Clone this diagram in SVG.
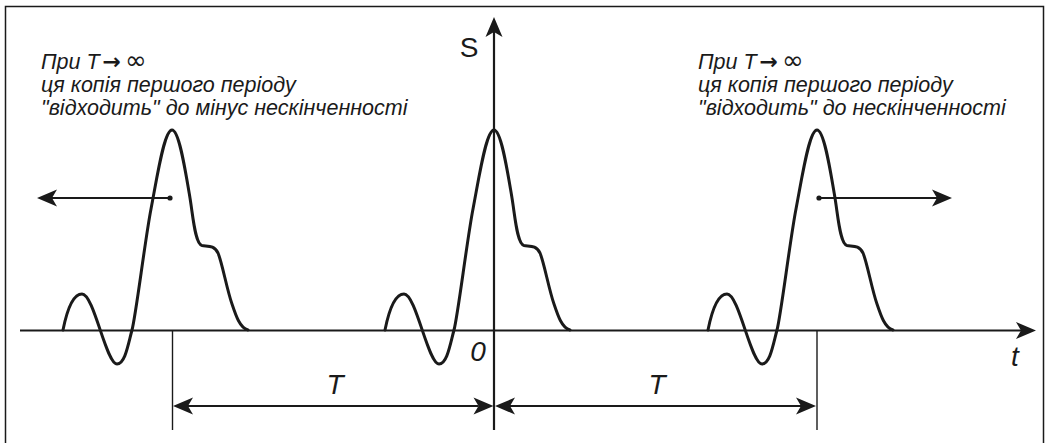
<svg xmlns="http://www.w3.org/2000/svg" xmlns:xlink="http://www.w3.org/1999/xlink" width="1049" height="443" viewBox="0 0 1049 443">
<style>
.frame{fill:none;stroke:#1a1a1a;stroke-width:1.5}
.axis{fill:none;stroke:#1a1a1a;stroke-width:2.2}
.thin{fill:none;stroke:#1a1a1a;stroke-width:1.4}
.dim{fill:none;stroke:#1a1a1a;stroke-width:1.8}
.pulse{fill:none;stroke:#1a1a1a;stroke-width:3;stroke-linejoin:round;stroke-linecap:round}
.note{font-family:"Liberation Sans",Arial,sans-serif;font-style:italic;font-size:21.5px;fill:#1a1a1a}
.arr{font-family:"DejaVu Sans",sans-serif;font-style:normal;font-weight:bold;font-size:22px}
.inf{font-family:"DejaVu Sans",sans-serif;font-style:normal;font-size:26px}
.lbl{font-family:"Liberation Sans",Arial,sans-serif;font-style:italic;font-size:28px;fill:#1a1a1a}
.lblS{font-family:"Liberation Sans",Arial,sans-serif;font-size:28px;fill:#1a1a1a}
.dot{fill:#1a1a1a}
</style>
<defs>
<marker id="ah" markerUnits="userSpaceOnUse" markerWidth="22" markerHeight="18" refX="5" refY="8.5" orient="auto-start-reverse" overflow="visible">
<path d="M0,0 L20,8.5 L0,17 L5,8.5 Z" fill="#1a1a1a"/>
</marker>
<path id="pulse" class="pulse" d="M-109,330 C-105,310 -99,294 -90,294 C-78,294 -66,364 -55,364 C-47,364 -44,345 -40,330 C-36,315 -27,240 -21,209 C-15,178 -8,130 0,130 C7,130 13,168 18,198 C21,216 23,244 30,245.5 C36,246.5 42,245 46,253 C50,262 55,290 60,304 C64,316 68,328 76,330"/>
</defs>
<rect class="frame" x="5.5" y="6.5" width="1038" height="445"/>
<g id="connectors">
<line class="axis" x1="20" y1="330.5" x2="1021" y2="330.5" marker-end="url(#ah)"/>
<line class="axis" x1="494" y1="430" x2="494" y2="32" marker-end="url(#ah)"/>
<line class="thin" x1="172.5" y1="331" x2="172.5" y2="430"/>
<line class="thin" x1="817" y1="331" x2="817" y2="430"/>
<line class="dim" x1="188" y1="406" x2="478.5" y2="406" marker-start="url(#ah)" marker-end="url(#ah)"/>
<line class="dim" x1="510" y1="406" x2="801" y2="406" marker-start="url(#ah)" marker-end="url(#ah)"/>
<line class="dim" x1="170" y1="198" x2="52" y2="198" marker-end="url(#ah)"/>
<line class="dim" x1="819" y1="198" x2="937" y2="198" marker-end="url(#ah)"/>
<circle class="dot" cx="170" cy="198" r="2.6"/>
<circle class="dot" cx="819" cy="198" r="2.6"/>
</g>
<g id="pulse-left"><use xlink:href="#pulse" x="172"/></g>
<g id="pulse-center"><use xlink:href="#pulse" x="494"/></g>
<g id="pulse-right"><use xlink:href="#pulse" x="817"/></g>
<g id="labels">
<text class="lblS" x="469" y="57" text-anchor="middle">S</text>
<text class="lbl" x="1015" y="366" text-anchor="middle">t</text>
<text class="lbl" x="478" y="361" text-anchor="middle">0</text>
<text class="lbl" x="335" y="394" text-anchor="middle">T</text>
<text class="lbl" x="657" y="394" text-anchor="middle">T</text>
</g>
<g id="note-left">
<text class="note" x="41" y="69">При T<tspan class="arr" dx="3">→</tspan><tspan class="inf" dx="4">∞</tspan></text>
<text class="note" x="41" y="92">ця копія першого періоду</text>
<text class="note" x="41" y="115">"відходить" до мінус нескінченності</text>
</g>
<g id="note-right">
<text class="note" x="698" y="69">При T<tspan class="arr" dx="3">→</tspan><tspan class="inf" dx="4">∞</tspan></text>
<text class="note" x="698" y="92">ця копія першого періоду</text>
<text class="note" x="698" y="115">"відходить" до нескінченності</text>
</g>
</svg>
